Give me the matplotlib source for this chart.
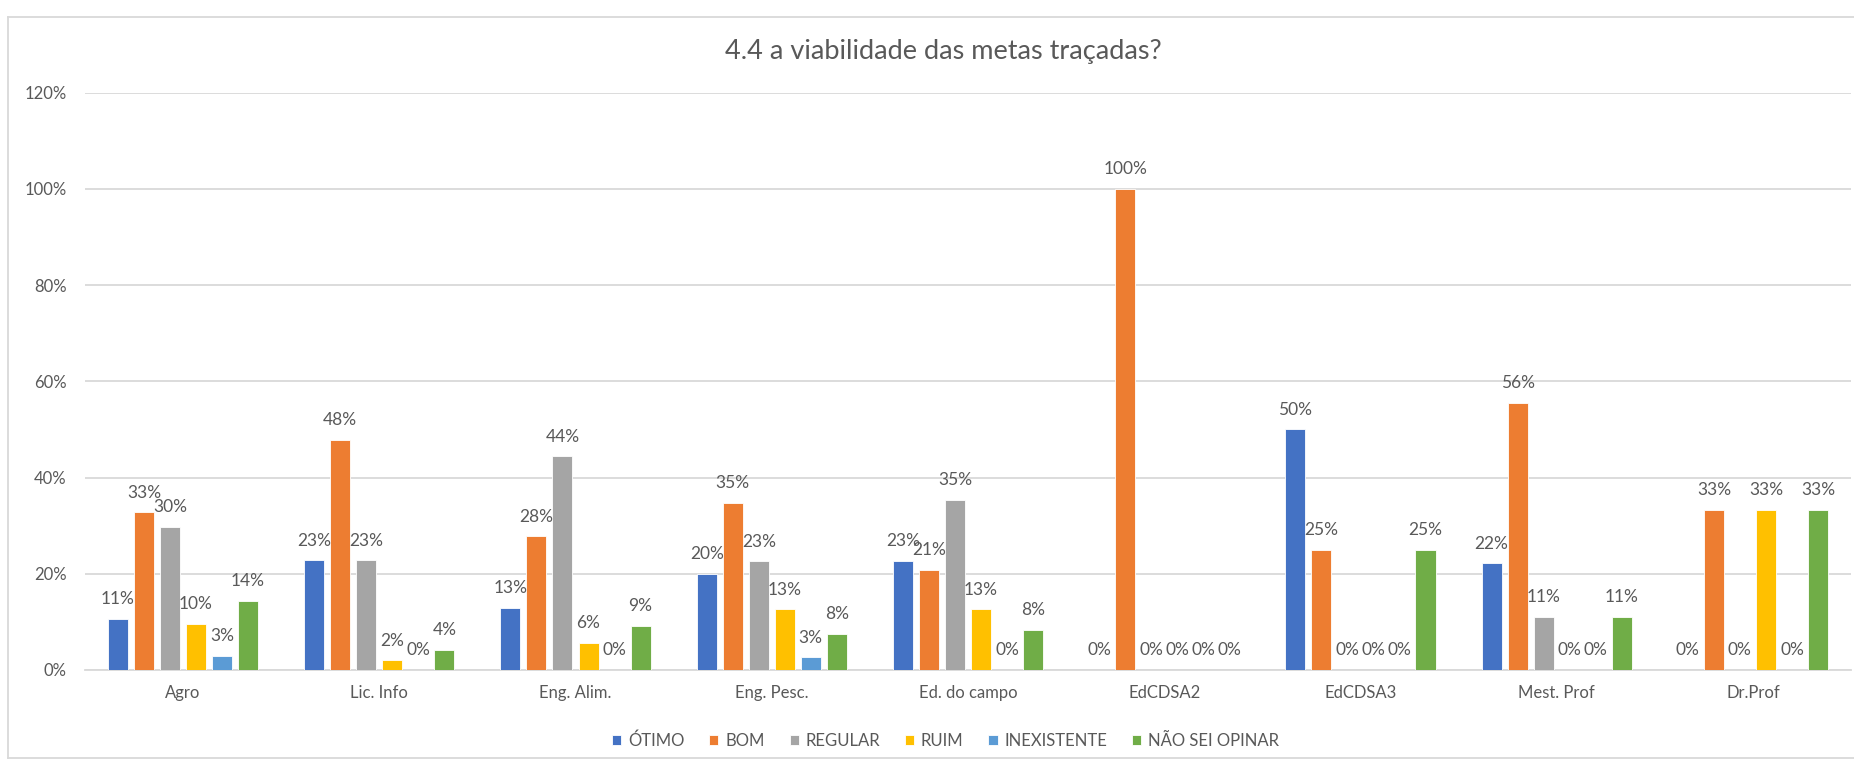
import numpy as np
import matplotlib
matplotlib.use("Agg")
import matplotlib.pyplot as plt
from matplotlib.lines import Line2D

# Dados (percentuais)
categorias = ["Agro", "Lic. Info", "Eng. Alim.", "Eng. Pesc.", "Ed. do campo",
              "EdCDSA2", "EdCDSA3", "Mest. Prof", "Dr.Prof"]
series = ["ÓTIMO", "BOM", "REGULAR", "RUIM", "INEXISTENTE", "NÃO SEI OPINAR"]

otimo = [10.6, 22.8, 12.9, 20.0, 22.7, 0, 50.0, 22.2, 0]
bom = [32.8, 47.8, 27.8, 34.8, 20.8, 100.0, 25.0, 55.6, 33.3]
regular = [29.8, 22.8, 44.4, 22.6, 35.4, 0, 0, 11.1, 0]
ruim = [9.6, 2.0, 5.6, 12.6, 12.6, 0, 0, 0, 33.3]
inexistente = [2.9, 0, 0, 2.6, 0, 0, 0, 0, 0]
nao_sei = [14.4, 4.2, 9.2, 7.5, 8.3, 0, 25.0, 11.1, 33.3]

cores = ["#4472C4", "#ED7D31", "#A5A5A5", "#FFC000", "#5B9BD5", "#70AD47"]
valores = [otimo, bom, regular, ruim, inexistente, nao_sei]

plt.rcParams['font.family'] = ['Lato', 'DejaVu Sans']
texto = "#595959"

fig = plt.figure(figsize=(18.54, 7.63), dpi=100)
ax = fig.add_axes([0.0458, 0.1219, 0.9526, 0.7566])

x = np.arange(len(categorias))
passo = 0.1326
largura = 0.102

for i, (nome, vals, cor) in enumerate(zip(series, valores, cores)):
    pos = x + (i - 2.5) * passo
    ax.bar(pos, vals, width=largura, color=cor, edgecolor="white",
           linewidth=0.6, label=nome, zorder=3)
    for px, v in zip(pos, vals):
        ax.annotate(f"{v:.0f}%", (px, v), xytext=(0, 10.5), textcoords="offset points",
                    ha="center", va="baseline", fontsize=12.5, color=texto, zorder=4)

ax.set_xlim(-0.5, len(categorias) - 0.5)
ax.set_ylim(0, 120)
ax.set_yticks(np.arange(0, 121, 20))
ax.set_yticklabels([f"{t}%" for t in range(0, 121, 20)])
ax.set_xticks(x)
ax.set_xticklabels(categorias)
ax.tick_params(axis="both", length=0, labelsize=12, colors=texto)
ax.tick_params(axis="x", pad=11)
ax.tick_params(axis="y", pad=13)
ax.grid(axis="y", color="#D9D9D9", linewidth=1.3, zorder=0)
for lado in ["top", "right", "left"]:
    ax.spines[lado].set_visible(False)
ax.spines["bottom"].set_color("#D9D9D9")
ax.spines["bottom"].set_linewidth(1.3)

fig.text(0.509, 0.933, "4.4 a viabilidade das metas traçadas?", ha="center", va="center",
         fontsize=19.5, color=texto)

fig.legend(loc="center", bbox_to_anchor=(0.51, 0.029), ncol=6, frameon=False,
           fontsize=12, handlelength=0.55, handleheight=0.55, columnspacing=1.5,
           handletextpad=0.4, labelcolor=texto)

# borda da área do gráfico (cortada à direita na imagem original)
borda = dict(color="#D9D9D9", linewidth=1.3, transform=fig.transFigure)
fig.add_artist(Line2D([0.0045, 0.0045], [0.006, 0.978], **borda))
fig.add_artist(Line2D([0.0045, 1.0], [0.978, 0.978], **borda))
fig.add_artist(Line2D([0.0045, 1.0], [0.006, 0.006], **borda))

fig.savefig("out.png", dpi=100)
